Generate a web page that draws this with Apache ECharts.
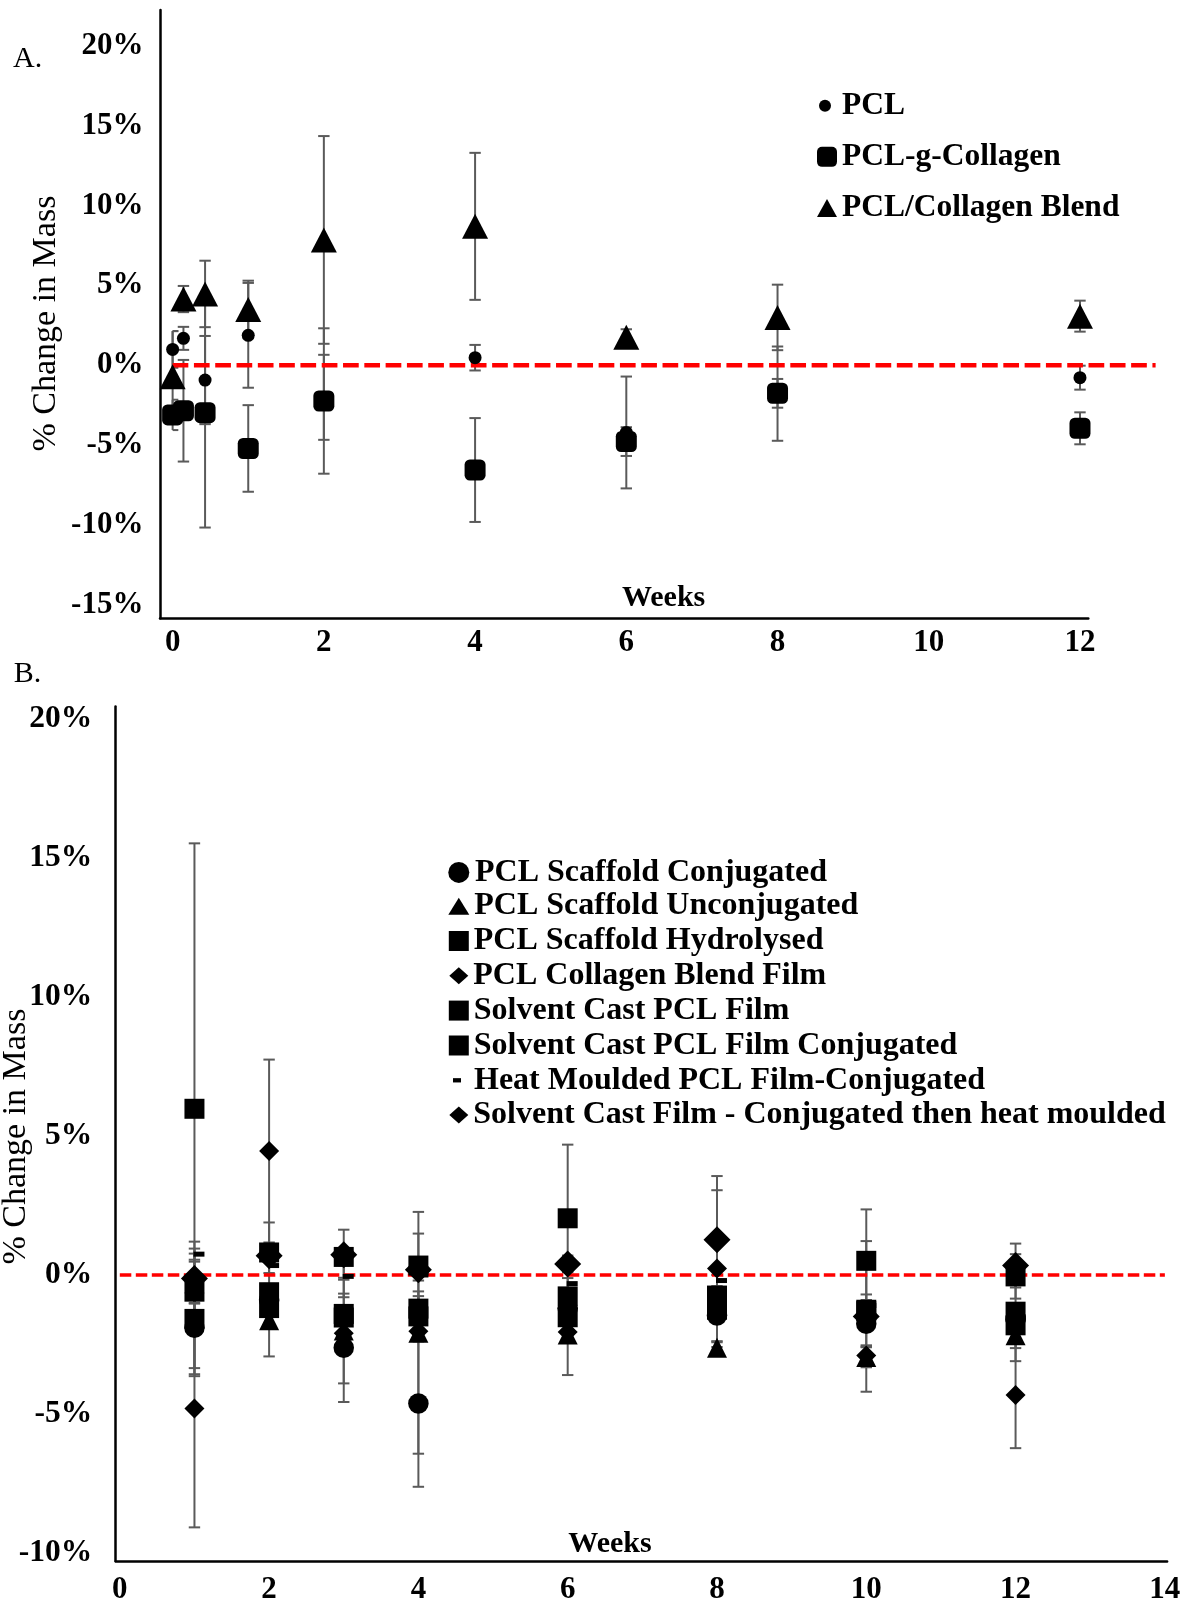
<!DOCTYPE html>
<html><head><meta charset="utf-8">
<script src="https://cdn.jsdelivr.net/npm/echarts@6/dist/echarts.min.js"></script>
<style>html,body{margin:0;padding:0;background:#fff}#c{width:1193px;height:1605px}</style>
</head><body><div id="c"></div>
<script>
// ---------- Panel A data (weeks, % change in mass, ± error) ----------
const weeksA = [0, 0.143, 0.429, 1, 2, 4, 6, 8, 12];
const pcl         = [1.0, 1.69, -0.92, 1.88, -2.0, 0.48, -4.2, -1.77, -0.77];
const pclErr      = [1.15, 0.72, 2.76, 3.28, 2.66, 0.8, 3.5, 2.95, 0.75];
const pclColl     = [-3.1, -2.84, -2.96, -5.2, -2.23, -6.55, -4.77, -1.75, -3.94];
const pclCollErr  = [0.95, 3.18, 7.19, 2.71, 4.55, 3.25, 0.9, 0.9, 1.0];
const blend       = [-0.71, 4.15, 4.47, 3.5, 7.85, 8.7, 1.76, 3.0, 3.08];
const blendErr    = [2.85, 0.82, 2.08, 1.8, 6.5, 4.6, 0.5, 2.05, 0.97];
const xTicksA = [0, 2, 4, 6, 8, 10, 12];
const yTicksA = [-15, -10, -5, 0, 5, 10, 15, 20];
const zeroWeeksA = [0, 13];

// ---------- Panel B data ----------
const weeksB = [1, 2, 3, 4, 6, 8, 10, 12];
const scConj      = [-1.9, -0.9, -2.62, -4.62, -1.2, -1.46, -1.75, -1.6];
const scConjErr   = [1.45, 0.3, 1.95, 3.0, 0.3, 0.92, 0.78, 1.5];
const scUnconj    = [-0.3, -1.63, -2.0, -2.08, -2.14, -2.62, -2.95, -2.17];
const scUnconjErr = [1.5, 1.3, 1.9, 4.35, 1.46, 0.2, 0.37, 0.46];
const scHydro     = [-1.58, -1.19, -1.53, -1.21, -1.52, -1.25, -1.25, -1.32];
const scHydroErr  = [2.06, 0.3, 0.3, 0.45, 0.3, 0.3, 0.55, 0.3];
const blendFilm   = [-0.13, 0.69, 0.73, 0.19, 0.40, 1.27, -1.49, 0.34];
const blendFilmErr= [0.9, 1.2, 0.9, 1.3, 0.3, 2.29, 2.71, 0.79];
const scFilm      = [5.98, 0.81, 0.65, 0.34, 2.04, -0.74, 0.51, -0.05];
const scFilmErr   = [9.55, 0.3, 0.3, 0.2, 2.65, 0.3, 1.85, 0.8];
const scFilmConj  = [-0.6, -0.62, -1.4, -1.49, -0.77, -1.0, -1.3, -1.81];
const scFilmConjErr=[0.4, 0.3, 0.3, 0.9, 0.3, 0.3, 0.3, 0.3];
const heatMould   = [0.75, 0.34, -0.05, 0.0, -0.31, -0.2, -1.1, -1.5];
const heatMouldErr= [0.2, 0.27, 0.75, 0.2, 0.2, 0.2, 0.2, 0.2];
const castHeat    = [-4.8, 4.46, -2.1, -2.02, -2.05, 0.23, -2.9, -4.32];
const castHeatErr = [4.28, 3.29, 0.3, 0.3, 0.3, 2.82, 0.3, 1.91];
const xTicksB = [0, 2, 4, 6, 8, 10, 12, 14];
const yTicksB = [-10, -5, 0, 5, 10, 15, 20];
const zeroWeeksB = [0, 14];

const namesA = ['PCL', 'PCL-g-Collagen', 'PCL/Collagen Blend'];
const namesB = ['PCL Scaffold Conjugated', 'PCL Scaffold Unconjugated', 'PCL Scaffold Hydrolysed',
  'PCL Collagen Blend Film', 'Solvent Cast PCL Film', 'Solvent Cast PCL Film Conjugated',
  'Heat Moulded PCL Film-Conjugated', 'Solvent Cast Film - Conjugated then heat moulded'];

const FONT = "'Liberation Serif','Times New Roman',serif";
const chart = echarts.init(document.getElementById('c'), null, {renderer: 'canvas'});

function pts(xs, ys) { return xs.map((x, i) => [x, ys[i]]); }
function errPts(xs, ys, es) { return xs.map((x, i) => [x, ys[i] - es[i], ys[i] + es[i]]); }

function errSeries(name, data, ai, clampX) {
  return {
    name: name, type: 'custom', xAxisIndex: ai, yAxisIndex: ai, z: 1, silent: true,
    encode: {x: 0, y: [1, 2]}, clip: false, data: data,
    renderItem: function (params, api) {
      const x = api.value(0), lo = api.value(1), hi = api.value(2);
      const a = api.coord([x, hi]), b = api.coord([x, lo]);
      let l = a[0] - 5.7; const r = a[0] + 5.7;
      if (clampX !== null) { l = Math.max(l, api.coord([clampX, 0])[0]); }
      const st = {stroke: '#5a5a5a', lineWidth: 2};
      return {type: 'group', children: [
        {type: 'line', shape: {x1: a[0], y1: a[1], x2: b[0], y2: b[1]}, style: st},
        {type: 'line', shape: {x1: l, y1: a[1], x2: r, y2: a[1]}, style: st},
        {type: 'line', shape: {x1: l, y1: b[1], x2: r, y2: b[1]}, style: st}
      ]};
    }
  };
}

function scat(name, data, ai, symbol, size, extra) {
  return Object.assign({
    name: name, type: 'scatter', xAxisIndex: ai, yAxisIndex: ai, z: 3, data: data,
    symbol: symbol, symbolSize: size, itemStyle: {color: '#000', opacity: 1},
    emphasis: {disabled: true}, clip: false
  }, extra || {});
}

function zeroLine(name, weeks, ai, width, dash) {
  return {name: name, type: 'line', xAxisIndex: ai, yAxisIndex: ai, z: 2, silent: true,
    data: weeks.map(w => [w, 0]), symbol: 'none', clip: false,
    lineStyle: {color: '#ff0000', width: width, type: dash}};
}

function leg(name, icon, w, h, left, cy, fs, fmt) {
  return {
    data: [{name: name, icon: icon}], orient: 'vertical', left: left, top: cy - fs / 2 + 2,
    itemWidth: w, itemHeight: h, padding: 0, itemGap: 0, selectedMode: false,
    textStyle: {fontFamily: FONT, fontWeight: 'bold', fontSize: fs, color: '#000'},
    formatter: fmt || '{name}'
  };
}

const axisTxt = (fs) => ({fontFamily: FONT, fontWeight: 'bold', fontSize: fs, color: '#000'});
const axisLine = {show: true, onZero: false, lineStyle: {color: '#000', width: 2.5}};
const hiddenAxis = {show: false};

const option = {
  animation: false,
  backgroundColor: '#fff',
  grid: [
    {left: 160, top: 10, width: 928.3, height: 608.3},
    {left: 115.7, top: 706.6, width: 1051.4, height: 855},
    // wider overlay of panel A used only by the 0% reference line, which runs past the x axis end
    {left: 160, top: 10, width: 995.6, height: 608.3}
  ],
  xAxis: [
    {gridIndex: 0, type: 'value', min: -0.167, max: 12.11, axisLine: axisLine,
     axisTick: {show: false}, splitLine: {show: false},
     axisLabel: Object.assign({customValues: xTicksA, margin: 9}, axisTxt(31))},
    {gridIndex: 1, type: 'value', min: -0.055, max: 14.03, axisLine: axisLine,
     axisTick: {show: false}, splitLine: {show: false},
     axisLabel: Object.assign({customValues: xTicksB, margin: 13}, axisTxt(31))},
    Object.assign({gridIndex: 2, type: 'value', min: -0.167, max: 13}, hiddenAxis)
  ],
  yAxis: [
    {gridIndex: 0, type: 'value', min: -15.83, max: 22.24, axisLine: axisLine,
     axisTick: {show: false}, splitLine: {show: false},
     axisLabel: Object.assign({customValues: yTicksA, margin: 16.6, formatter: v => v + '%'}, axisTxt(31))},
    {gridIndex: 1, type: 'value', min: -10.29, max: 20.45, axisLine: axisLine,
     axisTick: {show: false}, splitLine: {show: false},
     axisLabel: Object.assign({customValues: yTicksB, margin: 23.5, formatter: v => v + '%'}, axisTxt(31.5))},
    Object.assign({gridIndex: 2, type: 'value', min: -15.83, max: 22.24}, hiddenAxis)
  ],
  legend: [
    leg(namesA[0], 'circle', 24, 12, 819, 103.4, 31.5),
    leg(namesA[1], 'roundRect', 20, 20, 817, 154.6, 31.5),
    leg(namesA[2], 'triangle', 20, 18, 817, 205.8, 31.5),
    leg(namesB[0], 'circle', 22.4, 21, 448.3, 870.4, 32),
    leg(namesB[1], 'triangle', 21, 17, 448.3, 904.2, 32),
    leg(namesB[2], 'rect', 20, 20, 448.8, 939.0, 32),
    leg(namesB[3], 'diamond', 19, 17, 449.3, 973.8, 32),
    leg(namesB[4], 'rect', 20, 20, 448.8, 1008.6, 32),
    leg(namesB[5], 'rect', 20, 20, 448.8, 1043.5, 32),
    leg(namesB[6], 'rect', 8, 4.3, 453, 1078.3, 32, ' {name}'),
    leg(namesB[7], 'diamond', 19, 17, 449.3, 1113.1, 32)
  ],
  graphic: [
    {type: 'text', x: 27.6, y: 59.4, style: {text: 'A.', font: '30px ' + FONT, fill: '#000', align: 'center', verticalAlign: 'middle', textAlign: 'center', textVerticalAlign: 'middle'}},
    {type: 'text', x: 27.6, y: 673.8, style: {text: 'B.', font: '30px ' + FONT, fill: '#000', align: 'center', verticalAlign: 'middle', textAlign: 'center', textVerticalAlign: 'middle'}},
    {type: 'text', x: 46, y: 323.6, rotation: Math.PI / 2, style: {text: '% Change in Mass', font: '34px ' + FONT, fill: '#000', align: 'center', verticalAlign: 'middle', textAlign: 'center', textVerticalAlign: 'middle'}},
    {type: 'text', x: 16.4, y: 1136.6, rotation: Math.PI / 2, style: {text: '% Change in Mass', font: '34px ' + FONT, fill: '#000', align: 'center', verticalAlign: 'middle', textAlign: 'center', textVerticalAlign: 'middle'}},
    {type: 'text', x: 663.6, y: 598, style: {text: 'Weeks', font: 'bold 30px ' + FONT, fill: '#000', align: 'center', verticalAlign: 'middle', textAlign: 'center', textVerticalAlign: 'middle'}},
    {type: 'text', x: 610, y: 1544, style: {text: 'Weeks', font: 'bold 30px ' + FONT, fill: '#000', align: 'center', verticalAlign: 'middle', textAlign: 'center', textVerticalAlign: 'middle'}}
  ],
  series: [
    // Panel A
    errSeries('errA1', errPts(weeksA, pcl, pclErr), 0, 0),
    errSeries('errA2', errPts(weeksA, pclColl, pclCollErr), 0, 0),
    errSeries('errA3', errPts(weeksA, blend, blendErr), 0, 0),
    zeroLine('zeroA', zeroWeeksA, 2, 4.5, [15.7, 5.6]),
    scat(namesA[0], pts(weeksA, pcl), 0, 'circle', 13),
    scat(namesA[1], pts(weeksA, pclColl), 0, 'roundRect', 21),
    scat(namesA[2], pts(weeksA, blend), 0, 'triangle', [26, 25]),
    // Panel B
    errSeries('errB1', errPts(weeksB, scConj, scConjErr), 1, null),
    errSeries('errB2', errPts(weeksB, scUnconj, scUnconjErr), 1, null),
    errSeries('errB3', errPts(weeksB, scHydro, scHydroErr), 1, null),
    errSeries('errB4', errPts(weeksB, blendFilm, blendFilmErr), 1, null),
    errSeries('errB5', errPts(weeksB, scFilm, scFilmErr), 1, null),
    errSeries('errB6', errPts(weeksB, scFilmConj, scFilmConjErr), 1, null),
    errSeries('errB7', errPts(weeksB, heatMould, heatMouldErr), 1, null),
    errSeries('errB8', errPts(weeksB, castHeat, castHeatErr), 1, null),
    zeroLine('zeroB', zeroWeeksB, 1, 3.5, [11.5, 4.5]),
    scat(namesB[0], pts(weeksB, scConj), 1, 'circle', 20.5),
    scat(namesB[1], pts(weeksB, scUnconj), 1, 'triangle', 20),
    scat(namesB[2], pts(weeksB, scHydro), 1, 'rect', 20),
    scat(namesB[3], pts(weeksB, blendFilm), 1, 'diamond', 27),
    scat(namesB[4], pts(weeksB, scFilm), 1, 'rect', 20),
    scat(namesB[5], pts(weeksB, scFilmConj), 1, 'rect', 20),
    scat(namesB[6], pts(weeksB, heatMould), 1, 'rect', [11, 5], {symbolOffset: [4.5, 0]}),
    scat(namesB[7], pts(weeksB, castHeat), 1, 'diamond', 20)
  ]
};
chart.setOption(option);
</script>
</body></html>
